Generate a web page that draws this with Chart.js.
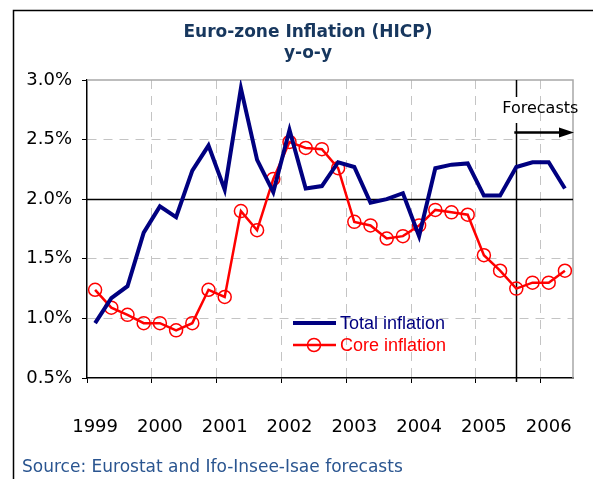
<!DOCTYPE html>
<html>
<head>
<meta charset="utf-8">
<script src="https://cdn.jsdelivr.net/npm/chart.js@4"></script>
<style>
  html, body { margin: 0; padding: 0; background: #fff; }
  #wrap { position: relative; width: 593px; height: 479px; }
  #title {
    position: absolute; left: 108px; top: 21px; width: 400px;
    text-align: center; font: bold 17px/21px "DejaVu Sans", sans-serif; color: #17375e;
  }
  #source {
    position: absolute; left: 22px; top: 456px;
    font: 17px/20px "DejaVu Sans", sans-serif; color: #2a5590;
  }
</style>
</head>
<body>
<div id="wrap">
  <canvas id="myChart" width="593" height="479"></canvas>
  <div id="title">Euro-zone Inflation (HICP)<br>y-o-y</div>
  <div id="source">Source: Eurostat and Ifo-Insee-Isae forecasts</div>
</div>
<script>
// quarterly, 1999 Q1 .. 2006 Q2
const years = ['1999', '2000', '2001', '2002', '2003', '2004', '2005', '2006']
const quarters = ['Q1', 'Q2', 'Q3', 'Q4']
const totalInflation = [0.96, 1.17, 1.27, 1.72, 1.94, 1.85, 2.24, 2.45,
    2.08, 2.93, 2.33, 2.06, 2.58, 2.09, 2.11, 2.31,
    2.27, 1.97, 2.00, 2.05, 1.69, 2.26, 2.29, 2.30,
    2.03, 2.03, 2.27, 2.31, 2.31, 2.09]
const coreInflation = [1.24, 1.09, 1.03, 0.96, 0.96, 0.90, 0.96, 1.24,
    1.18, 1.90, 1.74, 2.17, 2.48, 2.43, 2.42, 2.26,
    1.81, 1.78, 1.67, 1.69, 1.78, 1.91, 1.89, 1.87,
    1.53, 1.40, 1.25, 1.30, 1.30, 1.40]
const yTicks = [0.5, 1.0, 1.5, 2.0, 2.5, 3.0]
const forecastStart = 26 // 2005 Q3

const labels = []
years.forEach(y => quarters.forEach(q => labels.push(y + ' ' + q)))
labels.length = totalInflation.length

const gridGrey = '#c4c4c4'

const extras = {
    id: 'extras',
    beforeDraw(chart) {
        const c = chart.ctx
        c.save()
        c.strokeStyle = '#000'
        c.lineWidth = 1.5
        c.beginPath()
        c.moveTo(13.5, 479)
        c.lineTo(13.5, 10.5)
        c.lineTo(593, 10.5)
        c.stroke()
        c.restore()
    },
    beforeDatasetsDraw(chart) {
        const c = chart.ctx
        const a = chart.chartArea
        const x = chart.scales.x, y = chart.scales.y
        c.save()
        // top + right border
        c.strokeStyle = '#a8a8a8'
        c.lineWidth = 1.5
        c.beginPath()
        c.moveTo(a.left, a.top)
        c.lineTo(a.right, a.top)
        c.lineTo(a.right, a.bottom)
        c.stroke()
        // 2% line
        const y2 = Math.round(y.getPixelForValue(2.0)) + 0.5
        c.strokeStyle = '#000'
        c.lineWidth = 1.3
        c.beginPath()
        c.moveTo(a.left, y2)
        c.lineTo(a.right, y2)
        c.stroke()
        // forecast line
        const fx = Math.round(x.getPixelForValue(forecastStart)) + 0.5
        c.lineWidth = 1.5
        c.beginPath()
        c.moveTo(fx, a.top)
        c.lineTo(fx, a.top + 17)
        c.moveTo(fx, a.top + 43)
        c.lineTo(fx, a.bottom + 4)
        c.stroke()
        c.restore()
    },
    afterDatasetsDraw(chart) {
        const c = chart.ctx
        const a = chart.chartArea
        const x = chart.scales.x
        const fx = x.getPixelForValue(forecastStart)
        c.save()
        c.fillStyle = '#000'
        c.font = '16px "DejaVu Sans"'
        c.textBaseline = 'alphabetic'
        c.textAlign = 'left'
        c.fillText('Forecasts', fx - 14, a.top + 33)
        // arrow
        const ay = a.top + 52.5
        c.strokeStyle = '#000'
        c.lineWidth = 2.5
        c.beginPath()
        c.moveTo(fx - 2, ay)
        c.lineTo(a.right - 10, ay)
        c.stroke()
        c.beginPath()
        c.moveTo(a.right + 1, ay)
        c.lineTo(a.right - 14, ay - 5)
        c.lineTo(a.right - 14, ay + 5)
        c.closePath()
        c.fill()

        // legend
        const ds = chart.data.datasets
        const lx = 293, ly = [323, 345]
        c.font = '18px "Liberation Sans", Arial'
        c.textBaseline = 'middle'
        ds.forEach((d, i) => {
            c.strokeStyle = d.borderColor
            c.lineWidth = d.borderWidth
            c.beginPath()
            c.moveTo(lx, ly[i])
            c.lineTo(lx + 43, ly[i])
            c.stroke()
            if (d.pointRadius > 0) {
                c.lineWidth = d.pointBorderWidth
                c.beginPath()
                c.arc(lx + 21, ly[i], d.pointRadius, 0, Math.PI * 2)
                c.stroke()
            }
            c.fillStyle = d.borderColor
            c.fillText(d.label, lx + 47, ly[i] + 1)
        })
        c.restore()
    }
}

const config = {
    type: 'line',
    data: {
        labels: labels,
        datasets: [{
            label: 'Total inflation',
            data: totalInflation,
            borderColor: '#000080',
            borderWidth: 4,
            borderJoinStyle: 'miter',
            pointRadius: 0,
            pointBorderWidth: 0,
            tension: 0
        }, {
            label: 'Core inflation',
            data: coreInflation,
            borderColor: '#ff0000',
            borderWidth: 2.5,
            pointRadius: 6.5,
            pointBorderWidth: 1.5,
            pointBackgroundColor: 'rgba(0,0,0,0)',
            pointBorderColor: '#ff0000',
            tension: 0
        }]
    },
    options: {
        responsive: false,
        animation: false,
        layout: { padding: { left: 0, top: 80, right: 20, bottom: 0 } },
        plugins: {
            legend: { display: false },
            tooltip: { enabled: false }
        },
        scales: {
            x: {
                type: 'category',
                offset: true,
                afterFit: s => { s.height = 101; s.paddingLeft = 0; s.paddingRight = 0 },
                border: { color: '#000', width: 1.5, dash: [9, 7] },
                grid: {
                    offset: true,
                    drawTicks: true,
                    tickLength: 5,
                    color: ctx => (ctx.index % 4 === 0 && ctx.index > 0 && ctx.index < labels.length) ? gridGrey : 'rgba(0,0,0,0)',
                    tickColor: ctx => (ctx.index % 4 === 0 && ctx.index < labels.length) ? '#000' : 'rgba(0,0,0,0)',
                    lineWidth: 1
                },
                ticks: {
                    autoSkip: false,
                    maxRotation: 0,
                    padding: 34,
                    color: '#000',
                    font: { family: 'DejaVu Sans', size: 18 },
                    callback: (v, i) => i % 4 === 0 ? years[i / 4] : ''
                }
            },
            y: {
                min: 0.5,
                max: 3.0,
                afterFit: s => { s.width = 87 },
                afterBuildTicks: s => { s.ticks = yTicks.map(v => ({ value: v })) },
                border: { color: '#000', width: 1.5, dash: [9, 7] },
                grid: {
                    tickLength: 5,
                    color: ctx => (ctx.tick && (ctx.tick.value === 1.0 || ctx.tick.value === 1.5 || ctx.tick.value === 2.5)) ? gridGrey : 'rgba(0,0,0,0)',
                    tickColor: '#000',
                    lineWidth: 1
                },
                ticks: {
                    padding: 10,
                    color: '#000',
                    font: { family: 'DejaVu Sans', size: 18 },
                    callback: v => Number(v).toFixed(1) + '%'
                }
            }
        }
    },
    plugins: [extras]
}

const chart = new Chart(document.getElementById('myChart'), config)
</script>
</body>
</html>
